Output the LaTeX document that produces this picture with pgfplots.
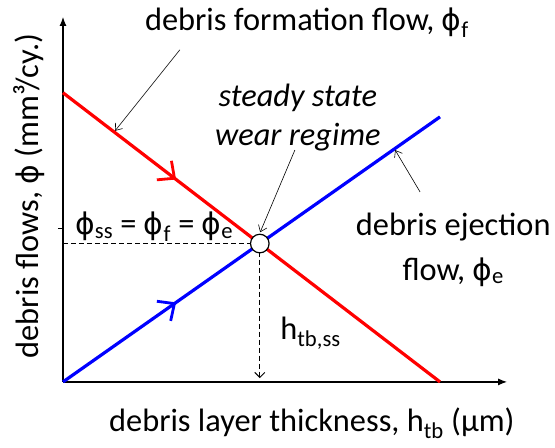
\documentclass[border=0pt]{standalone}
\usepackage{fontspec}
\setmainfont{Carlito}
\newfontfamily\phifont[Scale=0.92]{DejaVu Sans}
\newcommand{\ph}{{\phifont ϕ}}
\usepackage{pgfplots}
\pgfplotsset{compat=1.18}
\usetikzlibrary{arrows.meta,decorations.markings}
\tikzset{midarrow/.style={postaction={decorate},
  decoration={markings, mark=at position 0.30 with {\arrow[line width=2.8bp]{Straight Barb[length=13bp,width=24bp,line width=2.8bp]}}}}}
\begin{document}
\begin{tikzpicture}
\begin{axis}[
  x=37.7bp, y=37.7bp,
  xmin=0, xmax=11.78, ymin=0, ymax=9.68,
  axis lines=left,
  axis line style={line width=1.2bp, -{Latex[length=9bp,width=7bp]}},
  xtick=\empty, ytick={4.08}, yticklabels={},
  tick align=outside, major tick length=5bp,
  ytick style={black, line width=0.8bp},
  clip=false,
  font=\fontsize{32.5}{38}\selectfont,
]
% dashed guides
\addplot[black, line width=1bp, dash pattern=on 5bp off 3bp] coordinates {(0,3.67) (5.22,3.67)};
\addplot[black, line width=1bp, dash pattern=on 5bp off 3bp, -{Straight Barb[length=5bp,width=10bp]}] coordinates {(5.22,3.67) (5.22,0.1)};
% debris formation flow
\addplot[color={rgb,255:red,255;green,0;blue,0}, line width=3.2bp, midarrow]
  coordinates {(0,7.67) (10,0)};
% debris ejection flow
\addplot[color={rgb,255:red,0;green,0;blue,255}, line width=3.2bp, midarrow]
  coordinates {(0,0) (10,7.03)};
% steady state point
\addplot[only marks, mark=*, mark size=9.3bp, mark options={fill=white, draw=black, line width=1.2bp}] coordinates {(5.22,3.67)};

\node at (axis cs:6.47,9.52) {debris formation flow, \ph\textsubscript{f}};
\draw[line width=0.6bp, -{Straight Barb[length=6bp,width=9bp]}] (axis cs:3.10,8.81) -- (axis cs:1.38,6.66);
\node at (axis cs:6.23,7.53) {\itshape steady state};
\node at (axis cs:6.23,6.50) {\itshape wear regime};
\draw[line width=0.6bp, -{Straight Barb[length=6bp,width=9bp]}] (axis cs:6.15,6.15) -- (axis cs:5.23,3.97);
\node[anchor=west, inner sep=0pt] at (axis cs:0.32,4.11) {\ph\textsubscript{ss} = \ph\textsubscript{f} = \ph\textsubscript{e}};
\node at (axis cs:10.35,4.11) {debris ejection};
\node at (axis cs:10.35,2.92) {flow, \ph\textsubscript{e}};
\draw[line width=0.6bp, -{Straight Barb[length=6bp,width=9bp]}] (axis cs:9.47,5.04) -- (axis cs:8.81,6.15);
\node[anchor=west, inner sep=0pt] at (axis cs:5.76,1.30) {h\textsubscript{tb,ss}};
\node at (axis cs:6.6,-1.09) {debris layer thickness, h\textsubscript{tb} (µm)};
\node[rotate=90] at (axis cs:-0.9,4.93) {debris flows, \ph{} (mm³/cy.)};

\coordinate (bbA) at (axis cs:-1.671,-1.751);
\coordinate (bbB) at (axis cs:13.05,10.13);
\end{axis}
\pgfresetboundingbox
\path (bbA) rectangle (bbB);
\end{tikzpicture}
\end{document}
